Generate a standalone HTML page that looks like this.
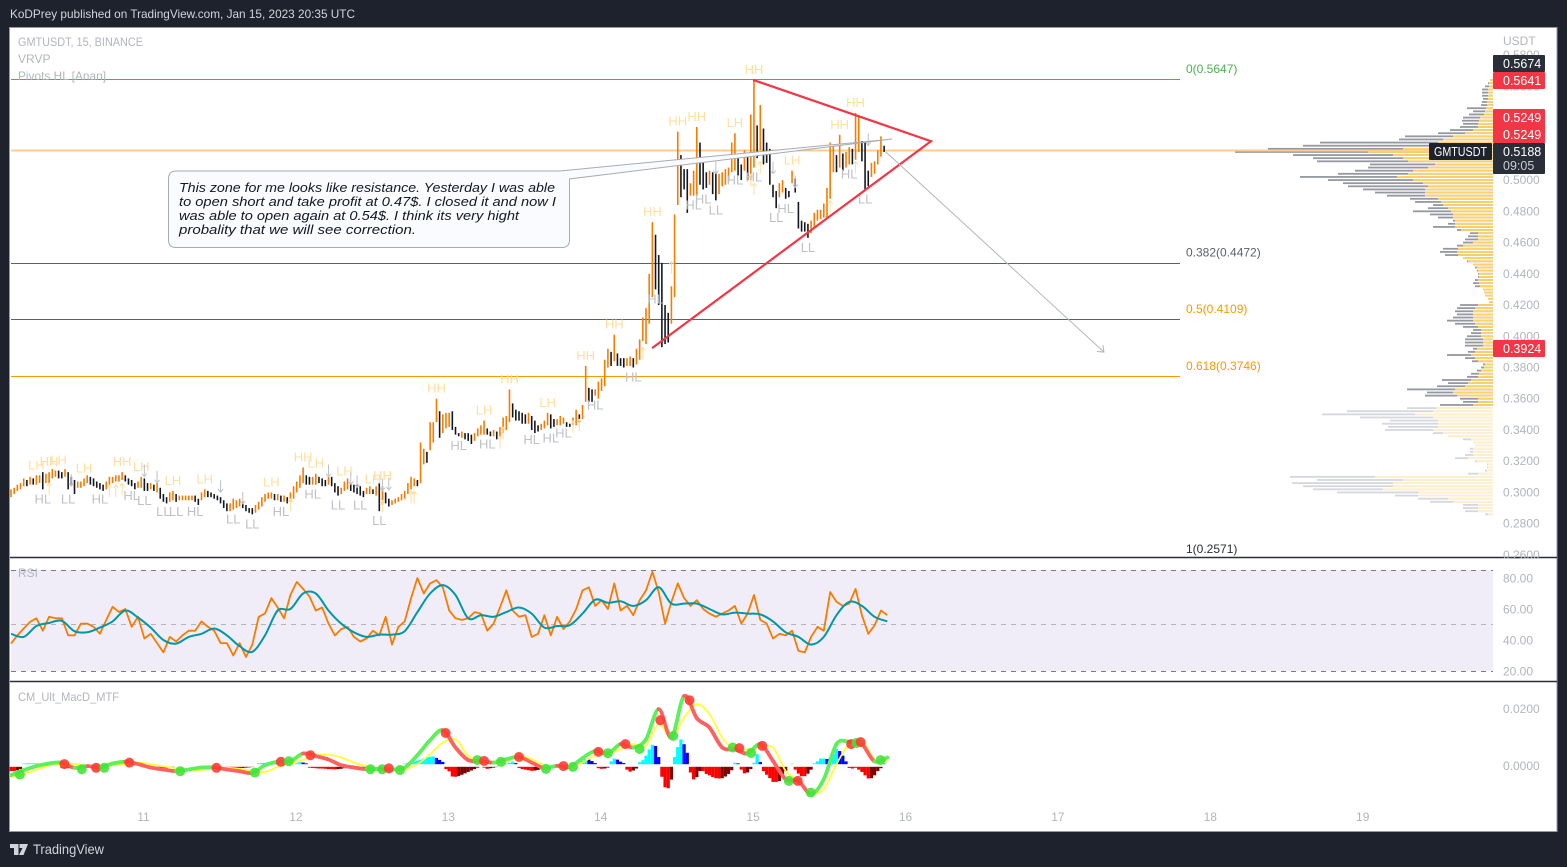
<!DOCTYPE html>
<html lang="en">
<head>
<meta charset="utf-8">
<title>GMTUSDT 15 BINANCE chart</title>
<style>
html,body{margin:0;padding:0;background:#1e222d;width:1567px;height:867px;overflow:hidden}
svg{display:block}
text{font-family:"Liberation Sans",sans-serif}
</style>
</head>
<body>
<svg id="root" xmlns="http://www.w3.org/2000/svg" width="1567" height="867" viewBox="0 0 1567 867">
  <rect x="0" y="0" width="1567" height="867" fill="#1e222d"/>
  <text x="10" y="18" font-size="12" fill="#d1d4dc" textLength="345" lengthAdjust="spacingAndGlyphs">KoDPrey published on TradingView.com, Jan 15, 2023 20:35 UTC</text>
  <rect x="9.5" y="27.5" width="1547.5" height="804" fill="#ffffff" stroke="#9598a1" stroke-width="1"/>
  <rect x="11" y="570" width="1482" height="101" fill="#f0edf8"/>
  <g id="vp"></g>
  <g id="fibs"></g>
  <g id="candles"></g>
  <g id="pivots"></g>
  <g id="drawings"></g>
  <g>
    <path d="M181 171 H560 L892 139 L569.5 179 V240 Q569.5 247.500 562 247.500 H176 Q168.500 247.500 168.500 240 V179 Q168.500 171 176 171 Z" fill="#f9fbff" stroke="#a9abb3" stroke-width="1"/>
    <g font-size="13" font-style="italic" fill="#131722">
      <text x="179" y="192" textLength="376" lengthAdjust="spacingAndGlyphs">This zone for me looks like resistance. Yesterday I was able</text>
      <text x="179" y="206" textLength="377" lengthAdjust="spacingAndGlyphs">to open short and take profit at 0.47$. I closed it and now I</text>
      <text x="179" y="220" textLength="340" lengthAdjust="spacingAndGlyphs">was able to open again at 0.54$. I think its very hight</text>
      <text x="179" y="234" textLength="237" lengthAdjust="spacingAndGlyphs">probality that we will see correction.</text>
    </g>
  </g>
  <g id="rsi"></g>
  <g id="macd"></g>
  <g font-size="12" fill="#b2b5be">
    <text x="18" y="46" textLength="125" lengthAdjust="spacingAndGlyphs">GMTUSDT, 15, BINANCE</text>
    <text x="18" y="63">VRVP</text>
    <text x="18" y="80" textLength="88" lengthAdjust="spacingAndGlyphs">Pivots HL [Anan]</text>
    <text x="18" y="577">RSI</text>
    <text x="18" y="701" textLength="101" lengthAdjust="spacingAndGlyphs">CM_Ult_MacD_MTF</text>
  </g>
  <line x1="10" x2="1557" y1="557.500" y2="557.500" stroke="#2a2e39" stroke-width="1.5"/>
  <line x1="10" x2="1557" y1="681.500" y2="681.500" stroke="#2a2e39" stroke-width="1.5"/>
  <g id="axes"></g>
  <g font-size="12.5" font-weight="400">
    <rect x="1493" y="55" width="52" height="17" rx="1" fill="#2a2e39"/>
    <text x="1503" y="68" fill="#ffffff">0.5674</text>
    <rect x="1493" y="72" width="52" height="17" rx="1" fill="#f23645"/>
    <text x="1503" y="85" fill="#ffffff">0.5641</text>
    <rect x="1493" y="109" width="52" height="34" rx="1" fill="#f23645"/>
    <text x="1503" y="122" fill="#ffffff">0.5249</text>
    <text x="1503" y="139" fill="#ffffff">0.5249</text>
    <rect x="1493" y="143" width="52" height="31" rx="1" fill="#2a2e39"/>
    <text x="1503" y="156" fill="#ffffff">0.5188</text>
    <text x="1503" y="170" fill="#c9ccd4">09:05</text>
    <rect x="1429" y="143" width="63" height="17" rx="1" fill="#1e222d"/>
    <text x="1434" y="156" fill="#ffffff" textLength="53" lengthAdjust="spacingAndGlyphs">GMTUSDT</text>
    <rect x="1493" y="340" width="52" height="17" rx="1" fill="#f23645"/>
    <text x="1503" y="353" fill="#ffffff">0.3924</text>
  </g>
  <g>
    <path d="M10 844 H18.500 V855 H14 V848 H10 Z M19.500 844 H28 L23.500 855 H19 L22.500 848 H19.500 Z" fill="#d1d4dc"/>
    <text x="33" y="854" font-size="14" fill="#d1d4dc" textLength="71" lengthAdjust="spacingAndGlyphs">TradingView</text>
  </g>
</svg>
<script>
// ---- price candles: 30-minute samples, high and low in USDT x 1000 ----
var candleHigh = [
302,303,305,306,309,308,310,309,311,311,
313,312,313,315,314,314,313,315,313,310,
308,307,307,309,311,310,309,307,306,305,
307,310,310,311,311,313,311,309,308,306,
307,310,309,306,306,305,306,303,299,297,
300,301,299,298,298,298,298,298,298,296,
300,302,301,300,299,298,297,295,293,293,
296,295,296,294,292,290,290,292,294,297,
299,300,300,299,299,298,298,297,300,304,
307,311,316,311,310,310,312,310,309,308,
310,310,306,304,303,307,309,306,305,305,
304,301,303,304,302,304,306,304,300,296,
295,296,297,299,301,306,310,309,308,332,
328,326,345,345,360,352,350,351,351,352,
342,338,339,338,338,337,338,341,343,346,
341,339,340,339,342,348,349,366,357,353,
352,351,350,351,349,346,343,344,346,351,
350,347,347,349,348,345,344,348,353,350,
356,381,367,366,366,371,373,385,392,390,
401,389,386,386,386,387,386,392,398,412,
418,440,473,465,452,447,420,415,432,478,
531,516,507,507,498,506,534,524,514,505,
506,505,505,504,505,507,508,524,530,514,
510,519,516,542,564,535,548,533,524,520,
497,493,498,500,495,493,506,501,486,474,
473,472,474,479,481,481,485,495,524,522,
516,529,517,518,521,520,543,541,525,524,
506,511,512,519,528,522];
var candleLow = [
297,299,301,302,304,304,305,305,305,306,
302,306,306,309,310,309,309,310,302,304,
299,303,303,304,306,305,304,303,302,301,
302,305,306,307,307,308,307,305,304,302,
303,303,301,301,302,301,300,296,294,293,
294,295,294,295,295,295,295,295,294,292,
295,297,297,297,296,295,293,290,288,288,
289,290,291,290,288,287,286,287,289,291,
294,296,296,295,295,294,294,293,294,296,
300,303,306,305,305,305,305,306,304,304,
305,304,300,298,299,301,302,301,300,299,
298,297,299,299,299,298,288,292,293,291,
292,293,294,295,296,299,302,304,304,306,
318,319,327,332,345,335,338,341,342,340,
337,336,335,334,333,331,333,336,337,337,
337,336,336,334,335,338,340,345,348,346,
346,344,344,344,340,338,339,340,341,343,
341,342,343,343,344,342,342,343,343,345,
347,358,358,358,362,360,365,368,380,381,
384,381,381,380,381,381,380,382,385,397,
395,408,425,430,420,393,395,396,408,425,
484,489,494,479,490,490,490,497,494,495,
497,491,487,491,496,497,499,505,506,503,
500,506,500,500,508,514,519,510,511,497,
489,482,489,492,488,489,498,492,469,467,
467,463,466,470,474,475,476,476,488,505,
505,508,506,508,510,510,513,518,512,494,
496,502,504,510,515,518];
// ---- pivot labels, anchored to the candle they mark ----
var highPivotBars = [8,12,15,23,35,41,51,61,82,92,96,105,114,117,134,149,157,169,181,190,202,210,216,228,234,246,261,266];
var highPivotTexts = ["LH","HH","LH","LH","HH","LH","LH","LH","LH","HH","LH","LH","LH","HH","HH","LH","HH","LH","HH","HH","HH","HH","HH","LH","HH","LH","HH","HH"];
var lowPivotBars = [10,18,28,38,42,48,52,58,70,76,85,95,103,110,116,141,150,164,170,174,184,196,203,215,218,222,228,234,241,244,251,264,269];
var lowPivotTexts = ["HL","LL","HL","HL","LL","LL","LL","HL","LL","LL","HL","HL","LL","LL","LL","HL","HL","HL","HL","HL","HL","HL","HL","HL","HL","LL","HL","HL","LL","HL","LL","HL","LL"];
var upArrowBars = [12,31,33,35,88,117,126,127,154,155,177,179,199,208,233,234,236,258,266];
var upArrowPrices = [302,301,301,302,292,291,297,297,332,338,342,343,389,444,500,494,508,483,508];
var downArrowBars = [19,42,46,66,73,100,107,109,117,119,222,240,247,270];
var downArrowPrices = [308,314,310,304,296.5,314,309,307,305,305.5,508,508,499,526];
// ---- fibonacci retracement ----
var fibRatios = ["0","0.382","0.5","0.618","1"];
var fibPrices = [0.5647,0.4472,0.4109,0.3746,0.2571];
// ---- drawings: [day of January, price] ----
var triangleDays = [15.0,16.167,14.337];
var trianglePrices = [0.5641,0.5249,0.3924];
var forecastDays = [15.871,17.302];
var forecastPrices = [0.5180,0.3899];
var lastPrice = 0.5188;
// ---- price, time and indicator ticks ----
var priceTicks = ["0.5800","0.5600","0.5400","0.5200","0.5000","0.4800","0.4600","0.4400","0.4200","0.4000","0.3800","0.3600","0.3400","0.3200","0.3000","0.2800","0.2600"];
var dayTicks = [11,12,13,14,15,16,17,18,19];
var rsiTicks = ["80.00","60.00","40.00","20.00"];
var macdTicks = ["0.0200","0.0000"];
// ---- visible-range volume profile, one row per 0.002 from 0.564 downward ----
var vpTotalVolume = [
3,5,8,11,11,11,10,11,12,26,20,24,30,31,30,33,43,55,88,94,
173,190,225,258,200,180,176,123,125,138,155,193,165,150,145,130,118,106,83,78,
60,65,80,63,55,40,45,60,36,23,25,28,30,36,50,53,48,30,26,20,
18,16,15,15,18,20,18,10,9,8,5,4,33,36,38,36,40,46,38,30,
20,22,26,28,28,28,20,25,46,28,21,10,12,16,22,26,51,45,56,86,
66,68,33,30,53,86,146,171,133,103,111,105,108,60,45,30,20,18,23,23,
28,38,18,6,6,8,25,203,176,201,190,180,156,98,75,63,30,30,28,8];
var vpUpVolume = [
3,4,4,5,5,5,5,6,6,7,8,9,13,14,15,15,20,28,40,50,
55,60,90,125,100,90,85,58,65,80,85,96,80,70,65,68,68,68,55,52,
50,45,42,40,40,38,38,38,32,15,15,15,20,30,35,36,35,30,25,20,
16,15,14,14,15,14,13,10,9,8,5,4,15,18,20,20,20,20,18,15,
12,12,12,10,10,10,16,18,22,18,15,8,9,12,14,15,22,25,28,38,
40,36,15,15,20,57,60,78,60,55,55,55,60,50,45,22,20,18,20,20,
20,25,16,5,5,6,15,118,90,100,100,110,75,75,45,40,15,15,15,5];
var vpPaleFromRow = 105;
// ---- RSI: orange sampled every 2 candles, teal average every 4 candles ----
var rsiValues = [
37.7,43,47.4,51.7,54,46,55,54,54,43,43,50.6,50.6,48.5,44,53,61.4,58,60,48.5,
55,41,44,38,32,42,39,43,46,46,52,48.5,46,38,38,30,38,29,37,55,
57,67,61,54,69,77.5,73,68,59,61,50.6,43,47,48.5,42,39,41,46,43,55,
37,48.5,52,67,80,70,76.5,78.6,74,59,
54,53,54,58,57,46,50.6,61,72,59,55,56,42,44,56,43,55,47,52,60,
72,74,62,65.7,60,76.5,59,62,56,65.7,72,84,71,50.6,64.6,76.5,67,62,65.7,60,
57,55,57,59,62,50.6,57,69,53,50.6,41,44,43,46,33,32,42,48.5,46,71,
64.6,62,63.5,73,56,44,49.5,59,56];
var rsiAverage = [
44,42,49,51,52.4,45.7,45,48,52,59,54.5,48,40,37.7,42,44,47.4,43,36,32.4,
43,59,60,70,70,59,50.6,45,42,43.5,43.5,45.7,58,70,75.4,
69,54,56,55,58,61,57,48,49,49.6,57,66,64,65,62,65.7,74,63.5,63.5,63.5,
60,56.5,57.7,57,56.5,52,45,42,37,42,56,64.6,62,55,52];
var rsiLevels = [85,50,20];
// ---- MACD (x 1000): lines sampled every 4 candles ----
var macdValues = [
-3.4,-1.6,-0.2,0.7,1,-0.8,-0.2,-0.7,0.7,1.3,0.5,-0.7,-1.4,-2,-1.4,-0.7,-0.7,-1.4,-2,-2.6,
0.1,1.3,1.5,4.2,3.3,2.1,0.1,-0.7,-1.3,-1.2,-1.4,-0.7,3.6,8.9,12.4,
6.3,1.9,1.6,1,2.2,3,1,-0.9,-0.1,-0.5,2.6,5.1,4.2,7.5,6.3,9.2,19.8,9.8,24.4,16.6,
13.3,6.3,5.7,4.2,7.5,1.6,-4.8,-5.4,-10,-4.8,7.5,8.3,7.5,1.4,2.8];
var signalValues = [
-4,-3,-1.5,0,0.5,0.6,0,-0.3,0,0.5,1,0.5,-0.3,-1,-1.6,-1.5,-1,-0.8,-1.2,-1.8,
-2.2,-0.5,0.8,2,3.5,3.8,2.8,1,-0.2,-1,-1.3,-1.3,0.5,4,8,
9.2,3.4,1.9,1.3,1.3,3.4,2.2,0.1,-0.5,-0.1,1,3.7,4.2,5.7,7.5,6.9,14.5,9.8,16.8,21.5,
18,9.8,5.7,5.7,6.3,6.3,-1.9,-5.4,-9.5,-8.3,0.5,7.5,8.7,2.2,1.6];
var crossBars = [2.8,16.8,22.3,26.8,29.4,37.3,53.3,64.7,76.8,85,87.5,94.3,113.2,116.9,119,122.5,136.9,146.9,149,154.3,160,168.5,174,177,185,188,193.5,198,204.5,208.6,213.7,227.3,229.4,233.1,236.6,245,247.8,251.9,264.6,266.3,267.6,273.9];
var crossValues = [-3.2,0.5,-1.3,-0.8,-0.8,1,-2,-0.8,-2.5,1.3,1.5,3.6,-1.3,-1.3,-1,-1.6,11.4,1.9,1.6,1.3,3,-1.2,-0.2,-0.5,4.8,4.3,7.5,5.8,15.9,10.4,22.9,6.3,6.1,4.4,6.9,-5.4,-5.4,-9.5,7.5,7.9,8.2,1.9];
var crossKinds = ["g","r","g","r","g","r","g","r","g","r","g","r","g","g","r","g","r","g","r","g","r","g","r","g","r","g","r","g","r","g","r","g","r","g","r","g","r","g","r","g","r","g"];
// ---- MACD histogram (x 1000), one value per candle ----
var histValues = [
-1.5,-1.5,-1.2,-0.8,0.2,0.3,0.3,0.3,0.3,0.2,
0,0,0,0,0,0,-0.3,-0.5,-0.5,-0.5,
-0.5,-0.3,0,0,0,0,0,0,0,0,
0,0,0,0,0,0,0,0,0,0,
0,0,-0.2,-0.3,-0.4,-0.5,-0.6,-0.5,-0.4,-0.5,
-0.3,-0.2,0,0,0,0,0,0,0,0,
0,0,0,0,-0.3,-0.2,0,0,-0.2,-0.3,
-0.3,-0.4,-0.5,-0.4,-0.3,-0.2,-0.1,0,0.3,0.4,
0.5,0.6,0.5,0.4,0.2,0,0,0,0,0,
0.3,0.7,0.6,0.3,-0.3,-0.4,-0.5,-0.6,-0.6,-0.7,
-0.8,-0.8,-0.9,-0.8,-0.7,-0.5,-0.3,-0.4,-0.5,-0.5,
-0.4,-0.3,-0.2,0,0,0,0,0,0,0,
0,0,0,0,0.2,0.5,0.8,1,1.3,1.6,
2,2.4,2.6,2.7,2.2,1.5,0.8,-0.8,-1.6,-3.4,
-3.5,-3.2,-2.8,-2.3,-1.8,-1.3,-0.8,-0.3,0,-0.3,
-0.7,-0.5,-0.3,-0.1,0,0,0.3,0.5,0.9,0.4,
-0.4,-0.8,-1,-1.2,-1.4,-1.3,-1.1,-0.5,0,0,
0,0,0,0,0,0,0,0,0.4,0.8,
1.2,1.8,1.6,1.1,0.4,-0.5,-0.7,-0.6,-0.3,1,
2,1.6,0.9,0.4,-1,-1.7,-1.3,-0.6,0.7,1.4,
3,5.2,6.8,6.4,2.5,-3.5,-7.2,-7.5,-4.5,2.5,
6,8.7,7,4,-2,-4.4,-3.6,-1.5,-1.5,-2.5,
-3,-3.6,-4,-4.1,-4,-3.4,-2.5,-1.2,0.5,0.3,
-1,-2.3,-2,-0.8,0.5,3.5,0.8,-1.5,-2.8,-4,
-5.3,-5.3,-5,-3.5,-1.5,0,0.2,-1,-2.4,-3.3,
-3.3,-2.4,-1,0.3,1,2,2,1.8,2.4,3.5,
5.3,4.6,3,1,-0.4,-0.6,-0.3,-1,-1.8,-3,
-4.1,-4,-3,-1.5,-0.5,0.4];

// ---- axis functions ----
var NS = "http://www.w3.org/2000/svg";
function xDay(d){ return 143.5 + (d - 11) * 152.4; }
function xBar(i){ return xDay(10.1306 + i / 48); }
function yPrice(p){ return 79 + (0.5647 - p) * 1562; }
function yMilli(m){ return yPrice(m / 1000); }
function yRsi(v){ return 624.5 - (v - 50) * 1.55; }
function yMacd(v){ return 765.5 - v * 2.85; }
function xVolume(v){ return 1493 - v; }
function crisp(y){ return Math.round(y) + 0.5; }
function make(tag, parent, attrs, text){
  var el = document.createElementNS(NS, tag);
  for (var k in attrs) el.setAttribute(k, attrs[k]);
  if (text !== undefined) el.textContent = text;
  parent.appendChild(el);
  return el;
}
function smoothSegment(pts, i){
  var p0 = pts[Math.max(i - 1, 0)], p1 = pts[i], p2 = pts[i + 1], p3 = pts[Math.min(i + 2, pts.length - 1)];
  return "C" + (p1[0] + (p2[0] - p0[0]) / 6).toFixed(1) + " " + (p1[1] + (p2[1] - p0[1]) / 6).toFixed(1) + " " +
    (p2[0] - (p3[0] - p1[0]) / 6).toFixed(1) + " " + (p2[1] - (p3[1] - p1[1]) / 6).toFixed(1) + " " +
    p2[0].toFixed(1) + " " + p2[1].toFixed(1);
}
function pathThrough(pts){
  var d = "M" + pts[0][0].toFixed(1) + " " + pts[0][1].toFixed(1);
  for (var i = 0; i < pts.length - 1; i++) d += smoothSegment(pts, i);
  return d;
}
function polyThrough(pts){
  return pts.map(function(p, i){ return (i ? "L" : "M") + p[0].toFixed(1) + " " + p[1].toFixed(1); }).join("");
}

// ---- volume profile ----
var vpG = document.getElementById("vp");
vpTotalVolume.forEach(function(total, r){
  var y = yPrice(0.564 - r * 0.002);
  var pale = r >= vpPaleFromRow;
  var g = make("rect", vpG, {x: xVolume(total), y: y - 0.9, width: total, height: 1.8, fill: pale ? "#d5d7dd" : "#9598a1"});
  
  
  var u = make("rect", vpG, {x: xVolume(vpUpVolume[r]), y: y - 0.9, width: vpUpVolume[r], height: 1.8, fill: pale ? "#fff0cc" : "#ffd166"});
  
  
});

// ---- fibonacci ----
var fibG = document.getElementById("fibs");
var fibLine = ["#4caf50","#5d606b","#5d606b","#ff9800","#2a2e39"];
var fibText = ["#4caf50","#5d606b","#ff9800","#ff9800","#2a2e39"];
fibPrices.forEach(function(p, i){
  var y = yPrice(p);
  var ly = crisp(Math.min(y, 557));
  var ln = make("line", fibG, {x1: 11, x2: 1180, y1: ly, y2: ly, stroke: fibLine[i], "stroke-width": 1});
  
  
  var t = make("text", fibG, {x: 1186, y: Math.min(y, 559) - 6, "font-size": 12, fill: fibText[i]}, fibRatios[i] + "(" + p.toFixed(4) + ")");
  
  
});

// ---- candles ----
var cG = document.getElementById("candles");
var lastY = crisp(yPrice(lastPrice) - 0.5);
var lastLine = make("line", cG, {x1: 11, x2: 1430, y1: lastY, y2: lastY, stroke: "#ffcc8f", "stroke-width": 2});


candleHigh.forEach(function(h, i){
  var mid = (h + candleLow[i]) / 2;
  var prev = i ? (candleHigh[i - 1] + candleLow[i - 1]) / 2 : mid;
  var bar = make("line", cG, {x1: xBar(i), x2: xBar(i), y1: yMilli(h), y2: yMilli(candleLow[i]), stroke: mid >= prev ? "#f57c00" : "#131722", "stroke-width": 1.6});
  
  
});

// ---- pivots ----
var pG = document.getElementById("pivots");
function pivotText(x, y, txt, color){
  var t = make("text", pG, {x: x, y: y, "font-size": 13, fill: color, "text-anchor": "middle"}, txt);
  
  
}
highPivotBars.forEach(function(b, i){ pivotText(xBar(b), yMilli(candleHigh[b]) - 6, highPivotTexts[i], "#ffdf9e"); });
lowPivotBars.forEach(function(b, i){ pivotText(xBar(b), yMilli(candleLow[b]) + 14, lowPivotTexts[i], "#bfc1c8"); });
function arrowMark(x, y, up, color){
  var dir = up ? 1 : -1;
  var a = make("path", pG, {d: "M" + x + " " + (y + 6 * dir) + "V" + (y - 6 * dir) + "M" + (x - 2.5) + " " + (y - 3 * dir) + "L" + x + " " + (y - 6 * dir) + "L" + (x + 2.5) + " " + (y - 3 * dir), fill: "none", stroke: color, "stroke-width": 1});
  
  
}
upArrowBars.forEach(function(b, i){ arrowMark(xBar(b), yMilli(upArrowPrices[i]), true, "#ffdf9e"); });
downArrowBars.forEach(function(b, i){ arrowMark(xBar(b), yMilli(downArrowPrices[i]), false, "#bfc1c8"); });

// ---- drawings ----
var dG = document.getElementById("drawings");
var triPts = triangleDays.map(function(d, i){ return [xDay(d), yPrice(trianglePrices[i])]; });
var tri = make("path", dG, {d: polyThrough(triPts), fill: "none", stroke: "#f23645", "stroke-width": 2.2, "stroke-linejoin": "miter"});


var fx1 = xDay(forecastDays[0]), fy1 = yPrice(forecastPrices[0]), fx2 = xDay(forecastDays[1]), fy2 = yPrice(forecastPrices[1]);
var fl = make("path", dG, {d: "M" + fx1 + " " + fy1 + "L" + fx2 + " " + fy2 + "M" + (fx2 - 7) + " " + (fy2 - 0.5) + "L" + fx2 + " " + fy2 + "L" + (fx2 - 1) + " " + (fy2 - 7), fill: "none", stroke: "#b2b5be", "stroke-width": 1});



// ---- RSI ----
var rG = document.getElementById("rsi");
rsiLevels.forEach(function(v, i){
  var ly = crisp(yRsi(v) - 0.5);
  var lv = make("line", rG, {x1: 11, x2: 1493, y1: ly, y2: ly, stroke: i === 1 ? "#b2b5be" : "#787b86", "stroke-width": 1, "stroke-dasharray": "5 5"});
  
  
});
var rsiLine = make("path", rG, {d: polyThrough(rsiValues.map(function(v, k){ return [xBar(2 * k), yRsi(v)]; })), fill: "none", stroke: "#f57c00", "stroke-width": 1.8, "stroke-linejoin": "round"});


var rsiAvg = make("path", rG, {d: pathThrough(rsiAverage.map(function(v, k){ return [xBar(4 * k), yRsi(v)]; })), fill: "none", stroke: "#0097a7", "stroke-width": 2});



// ---- MACD ----
var mG = document.getElementById("macd");
histValues.forEach(function(v, i){
  if (!v) return;
  var prev = i ? histValues[i - 1] : 0;
  var color = v > 0 ? (v >= prev ? "#00ffff" : "#0000ff") : (v <= prev ? "#ff0000" : "#800000");
  var top = v > 0 ? yMacd(v) - 1.3 : yMacd(0) + 1.3;
  var b = make("rect", mG, {x: xBar(i) - 1.6, y: top, width: 3.2, height: Math.abs(v) * 2.85, fill: color});
  
  
});
var sigPts = signalValues.map(function(v, k){ return [xBar(4 * k), yMacd(v)]; });
var sig = make("path", mG, {d: pathThrough(sigPts), fill: "none", stroke: "#ffff33", "stroke-width": 1.8});


var macdPts = macdValues.map(function(v, k){ return [xBar(4 * k), yMacd(v)]; });
macdValues.forEach(function(v, k){
  if (k === macdValues.length - 1) return;
  var rising = macdValues[k + 1] >= v;
  var seg = make("path", mG, {d: "M" + macdPts[k][0].toFixed(1) + " " + macdPts[k][1].toFixed(1) + smoothSegment(macdPts, k), fill: "none", stroke: rising ? "#5cf05a" : "#ff6060", "stroke-width": 3.8, "stroke-linecap": "round"});
  
  
});
crossBars.forEach(function(b, i){
  var dot = make("circle", mG, {cx: xBar(b), cy: yMacd(crossValues[i]), r: 5, fill: crossKinds[i] === "g" ? "#46e23a" : "#ff3d33", "fill-opacity": 0.9});
  
  
});

// ---- axes ----
var aG = document.getElementById("axes");
function axisLabel(x, y, txt, name, anchor){
  var t = make("text", aG, {x: x, y: y, "font-size": 12, fill: "#b2b5be", "text-anchor": anchor || "start"}, txt);
  
  
}
axisLabel(1503, 45, "USDT", "price-axis-unit");
priceTicks.forEach(function(l){ axisLabel(1503, yPrice(parseFloat(l)) + 4, l, "price-tick"); });
rsiTicks.forEach(function(l){ axisLabel(1503, yRsi(parseFloat(l)) + 4.5, l, "rsi-tick"); });
macdTicks.forEach(function(l){ axisLabel(1503, yMacd(parseFloat(l) * 1000) + 4.5, l, "macd-tick"); });
dayTicks.forEach(function(d){ axisLabel(xDay(d), 821, String(d), "time-tick", "middle"); });
</script>
</body>
</html>
